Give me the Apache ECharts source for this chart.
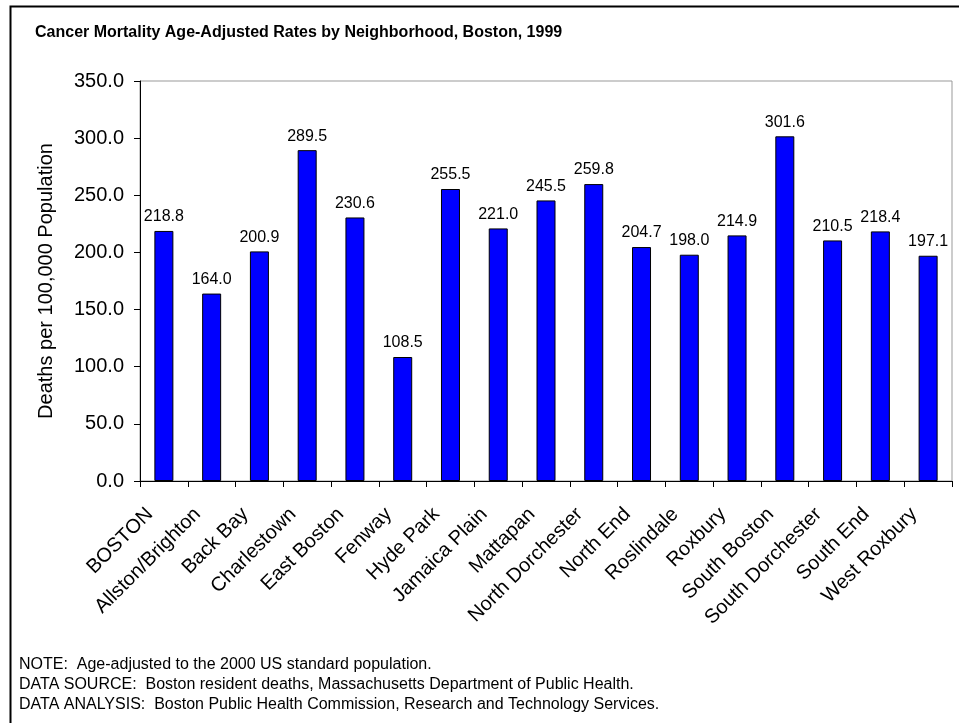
<!DOCTYPE html>
<html>
<head>
<meta charset="utf-8">
<script src="https://cdn.jsdelivr.net/npm/echarts@6/dist/echarts.min.js"></script>
<style>
  html, body { margin: 0; padding: 0; background: #fff; }
  #chart { width: 959px; height: 723px; }
</style>
</head>
<body>
<div id="chart"></div>
<script>
// Neighborhoods and their age-adjusted cancer mortality rates (per 100,000)
const neighborhoods = [
  'BOSTON', 'Allston/Brighton', 'Back Bay', 'Charlestown', 'East Boston',
  'Fenway', 'Hyde Park', 'Jamaica Plain', 'Mattapan', 'North Dorchester',
  'North End', 'Roslindale', 'Roxbury', 'South Boston', 'South Dorchester',
  'South End', 'West Roxbury'
];
const rates = [
  218.8, 164.0, 200.9, 289.5, 230.6, 108.5, 255.5, 221.0, 245.5, 259.8,
  204.7, 198.0, 214.9, 301.6, 210.5, 218.4, 197.1
];
const titleText = 'Cancer Mortality Age-Adjusted Rates by Neighborhood, Boston, 1999';
const yAxisTitle = 'Deaths per 100,000 Population';
const footnotes = [
  'NOTE:  Age-adjusted to the 2000 US standard population.',
  'DATA SOURCE:  Boston resident deaths, Massachusetts Department of Public Health.',
  'DATA ANALYSIS:  Boston Public Health Commission, Research and Technology Services.'
];

const FONT = 'Arial, "Liberation Sans", sans-serif';
const chart = echarts.init(document.getElementById('chart'));

const grid = { left: 140, top: 81, right: 7, bottom: 242 };

chart.setOption({
  backgroundColor: '#fff',
  animation: false,
  title: {
    text: titleText,
    left: 30, top: 20,
    textStyle: { fontFamily: FONT, fontSize: 16, fontWeight: 'bold', color: '#000' }
  },
  grid: Object.assign({ show: true, borderColor: '#999', borderWidth: 1 }, grid),
  xAxis: {
    type: 'category',
    data: neighborhoods,
    boundaryGap: true,
    axisLine: { lineStyle: { color: '#000', width: 1 } },
    axisTick: { show: true, alignWithLabel: false, length: 6, lineStyle: { color: '#000' } },
    axisLabel: {
      interval: 0, rotate: 45, margin: 16,
      padding: [0, 20, 0, 0],
      fontFamily: FONT, fontSize: 20, color: '#000'
    }
  },
  yAxis: {
    type: 'value',
    min: 0, max: 350, interval: 50,
    name: yAxisTitle,
    nameLocation: 'middle',
    nameGap: 84,
    nameTextStyle: { fontFamily: FONT, fontSize: 20, color: '#000' },
    axisLine: { show: true, lineStyle: { color: '#000', width: 1 } },
    axisTick: { show: true, inside: false, length: 6, lineStyle: { color: '#000' } },
    splitLine: { show: false },
    axisLabel: {
      margin: 16,
      fontFamily: FONT, fontSize: 20, color: '#000',
      formatter: v => v.toFixed(1)
    }
  },
  series: [{
    type: 'bar',
    data: rates,
    barWidth: 19,
    itemStyle: { color: '#0000FF', borderColor: '#000', borderWidth: 1 },
    label: {
      show: true, position: 'top', distance: 6,
      fontFamily: FONT, fontSize: 16, color: '#000',
      formatter: p => p.value.toFixed(1)
    }
  }],
  graphic: [
    {
      type: 'rect', left: 8, top: 4, silent: true,
      shape: { width: 1100, height: 1000 },
      style: { fill: 'none', stroke: '#000', lineWidth: 2 }
    },
    ...footnotes.map((t, i) => ({
      type: 'text', left: 19, top: 657 + i * 20, silent: true,
      style: { text: t, font: '16px ' + FONT, fill: '#000' }
    }))
  ]
});
</script>
</body>
</html>
